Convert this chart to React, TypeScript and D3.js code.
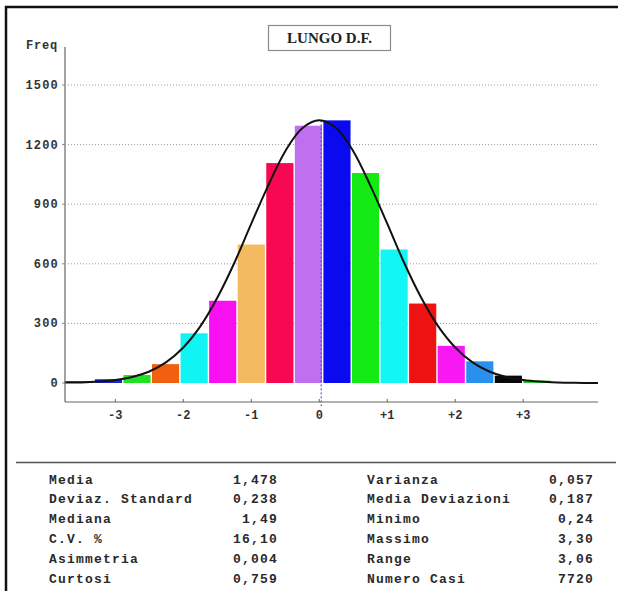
import React from "react";
import * as d3 from "d3";

// ---- data ----
const MEAN = 1.478;
const SD = 0.238;
const BIN_START = 0.59;
const BIN_WIDTH = 0.1;
const binCounts = [10, 19, 40, 95, 250, 414, 697, 1107, 1295, 1322, 1057, 672, 400, 187, 109, 37, 12];
const binColors = [
  "#c8301c", "#1a22d8", "#22e022", "#f0600f", "#10f4f4", "#f810f0", "#f4ba62", "#f80852", "#c070ee",
  "#0a0af0", "#14ea14", "#12f6f6", "#ee1212", "#f818f4", "#2a90ee", "#080808", "#2ccc2c",
];
const curveZ = [-3.75, -3.5, -3.25, -3, -2.75, -2.5, -2.25, -2, -1.75, -1.5, -1.25, -1, -0.75, -0.5, -0.25, 0,
  0.25, 0.5, 0.75, 1, 1.25, 1.5, 1.75, 2, 2.25, 2.5, 2.75, 3, 3.25, 3.5, 3.75, 4.1];
const curveFreq = [2, 3, 7, 15, 30, 58, 105, 179, 285, 429, 604, 802, 995, 1167, 1282, 1322,
  1282, 1167, 995, 802, 604, 429, 285, 179, 105, 58, 30, 15, 7, 3, 1, 0];
const yTicks = [0, 300, 600, 900, 1200, 1500];
const xTicks = [-3, -2, -1, 0, 1, 2, 3];
const xTickLabels = ["-3", "-2", "-1", "0", "+1", "+2", "+3"];
const title = "LUNGO D.F.";
const statsLeftLabels = ["Media", "Deviaz. Standard", "Mediana", "C.V. %", "Asimmetria", "Curtosi"];
const statsLeftValues = ["1,478", "0,238", "1,49", "16,10", "0,004", "0,759"];
const statsRightLabels = ["Varianza", "Media Deviazioni", "Minimo", "Massimo", "Range", "Numero Casi"];
const statsRightValues = ["0,057", "0,187", "0,24", "3,30", "3,06", "7720"];
const MEDIAN = 1.49;

export default function App() {
  const W = 618, H = 591;
  const axisL = 65, axisR = 598, axisTop = 47, axisBottom = 402;
  const x = d3.scaleLinear().domain([-3.74, 4.1]).range([axisL, axisR]);
  const y = d3.scaleLinear().domain([0, 1500]).range([383, 85]);
  const z = (v: number) => (v - MEAN) / SD;

  const line = d3
    .line<number>()
    .x((_, i) => x(curveZ[i]))
    .y((d) => y(d))
    .curve(d3.curveCatmullRom);

  const mono = "'Liberation Mono', 'DejaVu Sans Mono', monospace";
  const rowY = (i: number) => 479 + i * 19.8;

  return (
    <svg width={W} height={H} style={{ position: "absolute", left: 0, top: 0, background: "#fff" }}>
      {/* frame */}
      <line x1={5} x2={W} y1={7} y2={7} stroke="#111" strokeWidth={2.5} />
      <line x1={6} x2={6} y1={6} y2={H} stroke="#111" strokeWidth={2.5} />

      {/* title */}
      <rect x={268.5} y={25.5} width={122} height={25} fill="#fff" stroke="#8a8a8a" strokeWidth={1.2} />
      <text x={329.5} y={43} textAnchor="middle" fontFamily="'Liberation Serif', serif" fontWeight="bold" fontSize={15} fill="#222">
        {title}
      </text>

      {/* gridlines */}
      {yTicks.filter((t) => t > 0).map((t) => (
        <line key={"g" + t} x1={axisL + 3} x2={axisR} y1={y(t)} y2={y(t)} stroke="#9a9a9a" strokeWidth={1} strokeDasharray="1,2" />
      ))}

      {/* bars */}
      {binCounts.map((c, i) => {
        const e0 = BIN_START + i * BIN_WIDTH;
        const e1 = e0 + BIN_WIDTH;
        const x0 = x(z(e0)) + 0.7;
        const x1 = x(z(e1)) - 0.7;
        return <rect key={"b" + i} x={x0} width={x1 - x0} y={y(c)} height={y(0) - y(c)} fill={binColors[i]} />;
      })}

      {/* median dashed line */}
      <line x1={x(z(MEDIAN)) - 1.5} x2={x(z(MEDIAN)) - 1.5} y1={y(curveFreq[15])} y2={axisBottom + 4} stroke="#4a3c9c" strokeWidth={1} strokeDasharray="2,2" />

      {/* normal curve */}
      <path d={line(curveFreq) || ""} fill="none" stroke="#111" strokeWidth={2} />

      {/* axes */}
      <line x1={axisL} x2={axisL} y1={axisTop} y2={axisBottom} stroke="#666" strokeWidth={1.2} />
      <line x1={axisL} x2={axisR} y1={axisBottom} y2={axisBottom} stroke="#666" strokeWidth={1.2} />
      {yTicks.map((t) => (
        <g key={"yt" + t}>
          <line x1={axisL - 3} x2={axisL} y1={y(t)} y2={y(t)} stroke="#888" strokeWidth={1} />
          <text x={59} y={y(t) + 4} textAnchor="end" fontFamily={mono} fontWeight="bold" fontSize={12} letterSpacing={1.2} fill="#333">
            {t}
          </text>
        </g>
      ))}
      <text x={58} y={49} textAnchor="end" fontFamily={mono} fontWeight="bold" fontSize={12} letterSpacing={0.8} fill="#333">
        Freq
      </text>
      {xTicks.map((t, i) => (
        <g key={"xt" + t}>
          <line x1={x(t)} x2={x(t)} y1={axisBottom - 3} y2={axisBottom} stroke="#666" strokeWidth={1} />
          <text x={x(t)} y={419} textAnchor="middle" fontFamily={mono} fontWeight="bold" fontSize={12} fill="#333">
            {xTickLabels[i]}
          </text>
        </g>
      ))}

      {/* stats panel */}
      <line x1={16} x2={616} y1={462.5} y2={462.5} stroke="#555" strokeWidth={1.5} />
      {statsLeftLabels.map((l, i) => (
        <g key={"sl" + i}>
          <text x={49} y={rowY(i) + 4.5} fontFamily={mono} fontWeight="bold" fontSize={13} letterSpacing={1.2} fill="#2a2a2a">{l}</text>
          <text x={278} y={rowY(i) + 4.5} textAnchor="end" fontFamily={mono} fontWeight="bold" fontSize={13} letterSpacing={1.2} fill="#2a2a2a">{statsLeftValues[i]}</text>
        </g>
      ))}
      {statsRightLabels.map((l, i) => (
        <g key={"sr" + i}>
          <text x={367} y={rowY(i) + 4.5} fontFamily={mono} fontWeight="bold" fontSize={13} letterSpacing={1.2} fill="#2a2a2a">{l}</text>
          <text x={594} y={rowY(i) + 4.5} textAnchor="end" fontFamily={mono} fontWeight="bold" fontSize={13} letterSpacing={1.2} fill="#2a2a2a">{statsRightValues[i]}</text>
        </g>
      ))}
    </svg>
  );
}
